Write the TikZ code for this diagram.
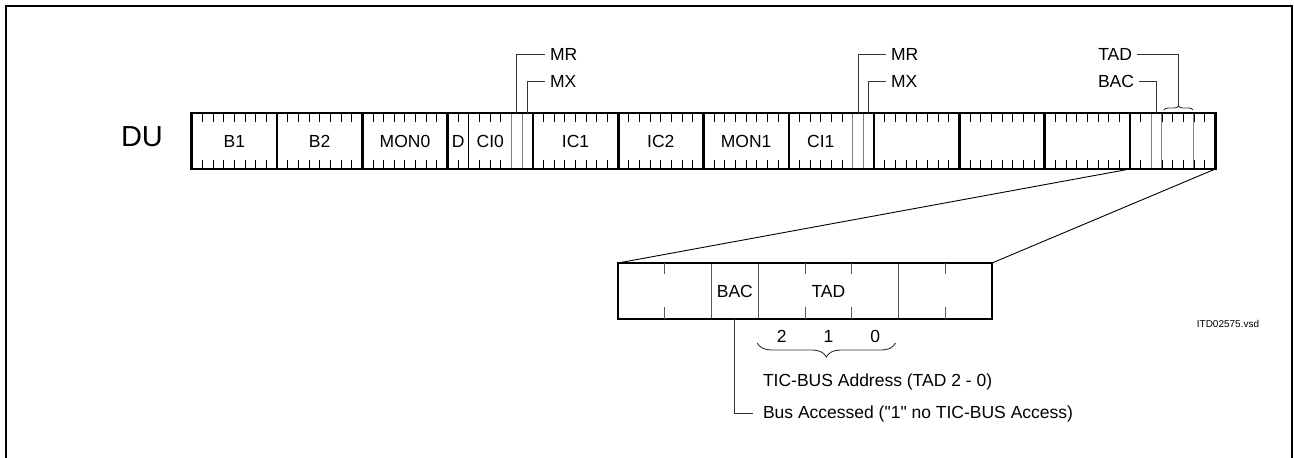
\documentclass[tikz,border=0pt]{standalone}
\usepackage{fontspec}
\setmainfont{Liberation Sans}[Ligatures=TeXOff]
\usetikzlibrary{calc,decorations.pathreplacing}

\def\bitw{10.66}
\def\zbitw{46.75}

\begin{document}
\begin{tikzpicture}[
  x=1pt, y=-1pt,
  font=\fontsize{17.5}{20}\selectfont,
  every node/.style={inner sep=0pt, outer sep=0pt},
  bytebox/.style={
    rectangle, draw=black, line width=2.6pt,
    minimum width=85.3pt, minimum height=56pt,
  },
  zoombox/.style={
    rectangle, draw=black, line width=2.8pt,
    minimum width=374pt, minimum height=56pt,
  },
  lbl/.style={inner xsep=5pt},
  notelbl/.style={inner xsep=10pt},
  bittick/.style={draw=black, line width=0.9pt},
  subline/.style={draw=black!50, line width=1pt, shorten <=1.3pt, shorten >=1.3pt},
  zbline/.style={draw=black!65, line width=1pt},
  leaderline/.style={draw=black!80, line width=0.9pt},
  zoomline/.style={draw=black, line width=0.9pt},
  outerframe/.style={draw=black, line width=2pt},
  upbrace/.style={decorate, decoration={brace, amplitude=4pt}, leaderline},
  downbrace/.style={decorate, decoration={brace, amplitude=14pt, mirror}, leaderline},
]
\useasboundingbox (0,0) rectangle (1294,458);

%---------- outer frame (open at the bottom) ----------
\draw[outerframe] (6,458) -- (6,6) -- (1292,6) -- (1292,458);

%---------- DU register, 12 bytes ----------
\node[font=\fontsize{29}{32}\selectfont] (du) at (142,136.3) {DU};
\foreach \lbl [count=\i from 0] in {B1,B2,MON0,{},IC1,IC2,MON1,{},{},{},{},{}}{
  \node[bytebox] (byte\i) at ({234.35+85.3*\i},141) {\lbl};
}

% bit ticks top and bottom
\foreach \b in {0,...,11}{
  \foreach \k in {1,...,7}{
    \draw[bittick] ($(byte\b.north west)+(\k*\bitw,0)$) -- ++(0,9);
    \draw[bittick] ($(byte\b.south west)+(\k*\bitw,0)$) -- ++(0,-9);
  }
}

% full bit lines
\draw[bittick] ($(byte3.north west)+(2*\bitw,0)$) -- ($(byte3.south west)+(2*\bitw,0)$);
\foreach \k in {6,7}{
  \draw[subline] ($(byte3.north west)+(\k*\bitw,0)$) -- ($(byte3.south west)+(\k*\bitw,0)$);
  \draw[subline] ($(byte7.north west)+(\k*\bitw,0)$) -- ($(byte7.south west)+(\k*\bitw,0)$);
}
\foreach \k in {2,3,6}{
  \draw[subline] ($(byte11.north west)+(\k*\bitw,0)$) -- ($(byte11.south west)+(\k*\bitw,0)$);
}

% field names inside split bytes
\node (dbit) at ($(byte3.west)+(1*\bitw,0)$) {D};
\node (ci0) at ($(byte3.west)+(4*\bitw,0)$) {CI0};
\node (ci1) at ($(byte7.west)+(3*\bitw,0)$) {CI1};

%---------- MR / MX / BAC / TAD labels above ----------
\node[lbl, anchor=west] (mr0) at (545,54.5) {MR};
\node[lbl, anchor=west] (mx0) at (545,81.5) {MX};
\node[lbl, anchor=west] (mr1) at (886,54.5) {MR};
\node[lbl, anchor=west] (mx1) at (886,81.5) {MX};
\node[lbl, anchor=east] (tadtop) at (1137,54.5) {TAD};
\node[lbl, anchor=east] (bactop) at (1139,81.5) {BAC};

\coordinate (mrbit0) at ($(byte3.north west)+(6.5*\bitw,0)$);
\coordinate (mxbit0) at ($(byte3.north west)+(7.5*\bitw,0)$);
\coordinate (mrbit1) at ($(byte7.north west)+(6.5*\bitw,0)$);
\coordinate (mxbit1) at ($(byte7.north west)+(7.5*\bitw,0)$);
\coordinate (bacbit) at ($(byte11.north west)+(2.5*\bitw,0)$);
\coordinate (tadl) at ($(byte11.north west)+(3*\bitw+2,-3)$);
\coordinate (tadr) at ($(byte11.north west)+(6*\bitw-1,-3)$);
\coordinate (tadtip) at ($(tadl)!0.5!(tadr)+(0,-4)$);

\foreach \s in {0,1}{
  \draw[leaderline] (mrbit\s) |- (mr\s.west);
  \draw[leaderline] (mxbit\s) |- (mx\s.west);
}
\draw[leaderline] (bacbit) |- (bactop.east);
\draw[upbrace] (tadl) -- (tadr);
\draw[leaderline] (tadtip) |- (tadtop.east);

%---------- expanded last byte ----------
\node[zoombox] (zb) at (805,291) {};
\foreach \k in {1,4,5,7}{
  \draw[zbline] ($(zb.north west)+(\k*\zbitw,0)$) -- ++(0,11);
  \draw[zbline] ($(zb.south west)+(\k*\zbitw,0)$) -- ++(0,-12);
}
\foreach \k in {2,3,6}{
  \draw[zbline] ($(zb.north west)+(\k*\zbitw,1.4)$) -- ($(zb.south west)+(\k*\zbitw,-1.4)$);
}
\node (bacz) at ($(zb.west)+(2.5*\zbitw,0)$) {BAC};
\node (tadz) at ($(zb.west)+(4.5*\zbitw,0)$) {TAD};

\draw[zoomline] (byte10.south east) -- (zb.north west);
\draw[zoomline] (byte11.south east) -- (zb.north east);

% TAD bit numbers and notes
\foreach \n [count=\j from 0] in {2,1,0}{
  \node (num\n) at ($(zb.south west)+({(3.5+\j)*\zbitw},17)$) {\n};
}
\coordinate (brl) at ($(zb.south west)+(3*\zbitw-1,24)$);
\coordinate (brr) at ($(zb.south west)+(6*\zbitw-3,24)$);
\draw[downbrace] (brl) -- (brr);

\node[notelbl, anchor=base west] (tadnote) at (753,386) {TIC-BUS Address (TAD 2 - 0)};
\node[notelbl, anchor=base west] (bacnote) at (753,418.3)
  {Bus Accessed ("1" no TIC-BUS Access)};
\coordinate (bacbitz) at ($(zb.south west)+(2.5*\zbitw,0)$);
\draw[leaderline] (bacbitz) |- (bacnote.west);

\node[font=\fontsize{10}{12}\selectfont] (itd) at (1228,324) {ITD02575.vsd};

\end{tikzpicture}
\end{document}
